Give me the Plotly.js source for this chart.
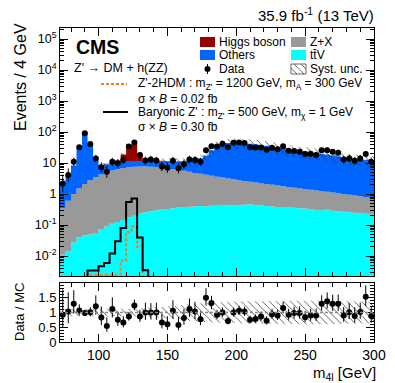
<!DOCTYPE html>
<html><head><meta charset="utf-8">
<script src="https://cdn.plot.ly/plotly-3.0.1.min.js"></script>
<style>html,body{margin:0;padding:0;background:#fff}#chart{width:395px;height:383px}</style>
</head><body><div id="chart"></div>
<script>
// ---- data (m4l bins of 4 GeV starting at 72 GeV) ----
const binLow = 72, binWidth = 4;
const ttV = [0.011,0.014,0.028,0.04,0.046,0.05,0.055,0.075,0.09,0.11,
  0.125,0.145,0.175,0.2,0.23,0.26,0.28,0.3,0.32,0.33,
  0.35,0.37,0.38,0.39,0.4,0.41,0.4,0.42,0.43,0.42,
  0.43,0.44,0.43,0.45,0.47,0.44,0.43,0.41,0.4,0.38,
  0.38,0.37,0.36,0.35,0.34,0.33,0.3,0.3,0.31,0.29,
  0.28,0.27,0.26,0.25,0.24,0.23,0.22];
const zPlusX = [0.34,0.59,0.97,1.46,2.05,2.75,3.45,4.22,4.91,5.59,
  6.18,6.76,7.13,7.4,7.47,7.44,7.32,7.1,6.78,6.47,
  6.05,5.63,5.22,4.81,4.4,4.09,3.8,3.48,3.17,2.98,
  2.77,2.56,2.37,2.2,2.03,1.91,1.77,1.69,1.6,1.52,
  1.42,1.33,1.24,1.17,1.11,1.05,1.0,0.94,0.87,0.83,
  0.78,0.73,0.69,0.65,0.61,0.57,0.54];
const others = [2.05,3.4,7.3,28.5,90,38.2,9.5,4.2,4.2,3.75,
  4.7,4.1,3.7,3.4,3.3,3.8,4.4,4.2,4.3,4.4,
  4.65,5.2,5.5,6.3,7.4,9.8,13.3,22.1,32.4,38.6,
  40.8,42,41.2,40.4,39.5,37.7,35.8,33.9,31,29.1,
  27.7,25.8,23.9,22.5,21.6,20.6,19.7,18.8,17.8,16.7,
  15.5,14,13.1,12.5,12.4,12,11.6];
const higgs = [0,0,0,0,0,0,0,0.3,0.3,0.35,
  1.0,8,27,30,8,1.0,0.5,0.4,0.4,0.4,
  0.35,0.3,0.3,0,0,0,0,0,0,0,
  0,0,0,0,0,0,0,0,0,0,
  0,0,0,0,0,0,0,0,0,0,
  0,0,0,0,0,0,0];
const dataCounts = [2.2,4.1,11,32,91,41,14,7.3,5.2,11,
  9.8,12.5,34,46,18,12,13,12,7.8,7,
  11.9,6.8,9.1,13.1,12.5,11,26,35,34,42,
  32,45,46,44,32,31.5,31.5,27,31,27.6,
  35,25,24.5,23,19.5,20,18,26,26,23,
  21.6,13,14,11.8,14,19.5,11];
const ratio = [0.92,1.03,1.3,1.07,0.98,1.01,1.21,0.83,0.54,1.12,
  0.75,0.66,0.86,1.24,0.86,1.0,1.0,1.0,0.66,0.6,
  1.06,0.58,0.81,1.12,1.03,0.77,1.5,1.32,0.92,1.0,
  0.71,1.0,1.06,1.03,0.75,0.78,0.86,0.72,0.94,0.9,
  1.15,0.92,0.98,0.98,0.84,0.9,0.9,1.3,1.38,1.3,
  1.3,0.9,1.01,0.88,1.02,1.53,0.88];
const systRel = [0.13,0.13,0.13,0.13,0.13,0.13,0.13,0.13,0.13,0.13,
  0.13,0.13,0.13,0.14,0.15,0.16,0.17,0.18,0.19,0.2,
  0.22,0.24,0.26,0.28,0.3,0.31,0.32,0.33,0.34,0.35,
  0.36,0.36,0.37,0.37,0.38,0.38,0.38,0.39,0.39,0.39,
  0.4,0.4,0.4,0.4,0.4,0.4,0.4,0.4,0.4,0.39,
  0.39,0.38,0.38,0.38,0.37,0.37,0.37];
const sigBaryonic = [0,0,0,0,0,0.0034,0.0034,0.0047,0.006,0.012,
  0.03,0.08,0.55,0.72,0.04,0.0035,0,0,0,0,
  0,0,0,0,0,0,0,0,0,0,0,0,0,0,0,0,0,0,0,0,
  0,0,0,0,0,0,0,0,0,0,0,0,0,0,0,0,0];
const sig2HDM = [0,0,0,0,0,0.0025,0.0025,0.0025,0.0025,0.0025,
  0.0025,0.007,0.06,0.09,0.02,0,0,0,0,0,
  0,0,0,0,0,0,0,0,0,0,0,0,0,0,0,0,0,0,0,0,
  0,0,0,0,0,0,0,0,0,0,0,0,0,0,0,0,0];
const yTickVals = [0.01,0.1,1,10,100,1000,10000,100000];
const yTickText = ['10<sup>-2</sup>','10<sup>-1</sup>','1','10','10<sup>2</sup>','10<sup>3</sup>','10<sup>4</sup>','10<sup>5</sup>'];
const ratioTickVals = [0,0.5,1,1.5];
const ratioTickText = ['0','0.5','1','1.5'];

// ---- build ----
const FONT = '"Liberation Sans", Arial, Helvetica, sans-serif';
const C = {higgs:'#990000', others:'#0064ff', zx:'#999999', ttv:'#00ffff', orange:'#ee7f1e'};
const n = dataCounts.length;
const edges = Array.from({length:n+1},(_,i)=>binLow+i*binWidth);
const centers = Array.from({length:n},(_,i)=>binLow+(i+0.5)*binWidth);
const step = v => v.concat([v[v.length-1]]);
const FLOOR = 1e-6;
const cum1 = ttV.slice();
const cum2 = cum1.map((v,i)=>v+zPlusX[i]);
const cum3 = cum2.map((v,i)=>v+others[i]);
const cum4 = cum3.map((v,i)=>v+higgs[i]);
const errUp = dataCounts.map(v=>0.5+Math.sqrt(v+0.25));
const errDn = dataCounts.map(v=>Math.sqrt(v+0.25)-0.5);
const pat = {shape:'\\', fgcolor:'#333', bgcolor:'rgba(0,0,0,0)', size:5, solidity:0.15};

function fillTrace(y, color, extra){
  return Object.assign({x:edges, y:step(y), type:'scatter', mode:'lines',
    line:{width:0, shape:'hv'}, fill:'tonexty', fillcolor:color, hoverinfo:'skip',
    xaxis:'x', yaxis:'y'}, extra||{});
}
const traces = [];
traces.push({x:edges, y:step(edges.slice(0,n).map(()=>FLOOR)), type:'scatter', mode:'lines', line:{width:0, shape:'hv'}, hoverinfo:'skip'});
traces.push(fillTrace(cum1, C.ttv));
traces.push(fillTrace(cum2, C.zx));
traces.push(fillTrace(cum3, C.others));
traces.push(fillTrace(cum4, C.higgs));
traces.push({x:edges, y:step(cum4.map((v,i)=>v*(1-systRel[i]))), type:'scatter', mode:'lines', line:{width:0, shape:'hv'}, hoverinfo:'skip'});
traces.push(fillTrace(cum4.map((v,i)=>v*(1+systRel[i])), 'rgba(0,0,0,0)', {fillpattern:pat}));
traces.push({x:edges, y:step(sig2HDM.map(v=>v>0?v:FLOOR)), type:'scatter', mode:'lines', line:{color:C.orange, width:2, shape:'hv', dash:'3px,2px'}, hoverinfo:'skip'});
traces.push({x:edges, y:step(sigBaryonic.map(v=>v>0?v:FLOOR)), type:'scatter', mode:'lines', line:{color:'#000', width:2, shape:'hv'}, hoverinfo:'skip'});
traces.push({x:centers, y:dataCounts, type:'scatter', mode:'markers', marker:{color:'#000', size:6},
  error_y:{type:'data', symmetric:false, array:errUp, arrayminus:errDn, color:'#000', thickness:1, width:0}, hoverinfo:'skip'});
// ratio panel
traces.push({x:edges, y:step(systRel.map(s=>1-s)), type:'scatter', mode:'lines', line:{width:0, shape:'hv'}, xaxis:'x2', yaxis:'y2', hoverinfo:'skip'});
traces.push({x:edges, y:step(systRel.map(s=>1+s)), type:'scatter', mode:'lines', line:{width:0, shape:'hv'}, fill:'tonexty', fillcolor:'rgba(0,0,0,0)', fillpattern:pat, xaxis:'x2', yaxis:'y2', hoverinfo:'skip'});
traces.push({x:centers, y:ratio, type:'scatter', mode:'markers', marker:{color:'#000', size:6},
  error_y:{type:'data', symmetric:false, array:ratio.map((r,i)=>r*errUp[i]/dataCounts[i]), arrayminus:ratio.map((r,i)=>r*errDn[i]/dataCounts[i]), color:'#000', thickness:1, width:0},
  xaxis:'x2', yaxis:'y2', hoverinfo:'skip'});
// legend symbols needing patterns/markers (pixel overlay axes)
traces.push({x:[291,306,306,291,291], y:[64,64,74,74,64], type:'scatter', mode:'lines', fill:'toself', fillcolor:'rgba(0,0,0,0)', fillpattern:pat, line:{color:'#444', width:0.8}, xaxis:'x3', yaxis:'y3', hoverinfo:'skip'});
traces.push({x:[207.5], y:[69], type:'scatter', mode:'markers', marker:{color:'#000', size:6}, error_y:{type:'data', array:[5], color:'#000', thickness:1, width:0}, xaxis:'x3', yaxis:'y3', hoverinfo:'skip'});

// minor ticks for log axis
const minorLog = [];
for(let e=-3;e<=5;e++) for(let d=2;d<=9;d++) minorLog.push(d*Math.pow(10,e));

const PX = x=>(x-60)/314, PY = y=>(342-y)/314;
function txt(x,y,text,size,opts){
  return Object.assign({xref:'paper', yref:'paper', x:PX(x), y:PY(y), text:text, showarrow:false,
    font:{family:FONT, size:size, color:'#000'}, xanchor:'left', yanchor:'middle', borderpad:0}, opts||{});
}
function box(x0,x1,y0,y1,color){
  return {type:'rect', xref:'paper', yref:'paper', x0:PX(x0), x1:PX(x1), y0:PY(y1), y1:PY(y0), fillcolor:color, line:{width:0}};
}
function hline(x0,x1,y,color,dash){
  return {type:'line', xref:'paper', yref:'paper', x0:PX(x0), x1:PX(x1), y0:PY(y), y1:PY(y), line:{color:color, width:2, dash:dash||'solid'}};
}

const axCommon = {showline:true, linecolor:'#000', linewidth:1, mirror:'allticks', ticks:'inside', tickcolor:'#000',
  showgrid:false, zeroline:false, ticklen:8, tickwidth:1};
const layout = {
  width:395, height:383, margin:{l:60, r:21, t:28, b:41, pad:0},
  paper_bgcolor:'#fff', plot_bgcolor:'rgba(0,0,0,0)', showlegend:false,
  font:{family:FONT, color:'#000'},
  xaxis: Object.assign({}, axCommon, {domain:[0,1], anchor:'y', range:[72,300], tick0:0, dtick:50, showticklabels:false,
    minor:{ticks:'inside', ticklen:4, dtick:10, tick0:0, tickcolor:'#000', showgrid:false}}),
  yaxis: Object.assign({}, axCommon, {domain:[0.21,1], anchor:'x', type:'log', range:[-2.645,5.355],
    tickmode:'array', tickvals:yTickVals, ticktext:yTickText, tickfont:{size:12.5, family:FONT},
    minor:{ticks:'inside', ticklen:4, tickmode:'array', tickvals:minorLog, tickcolor:'#000', showgrid:false}}),
  xaxis2: Object.assign({}, axCommon, {domain:[0,1], anchor:'y2', range:[72,300], tick0:0, dtick:50,
    tickfont:{size:14, family:FONT},
    minor:{ticks:'inside', ticklen:4, dtick:10, tick0:0, tickcolor:'#000', showgrid:false}}),
  yaxis2: Object.assign({}, axCommon, {domain:[0,0.188], anchor:'x2', range:[0,2.0],
    tickmode:'array', tickvals:ratioTickVals, ticktext:ratioTickText, tickfont:{size:13, family:FONT},
    minor:{ticks:'inside', ticklen:4, dtick:0.1, tick0:0, tickcolor:'#000', showgrid:false}}),
  xaxis3: {domain:[0,1], anchor:'y3', range:[60,374], visible:false, fixedrange:true},
  yaxis3: {domain:[0,1], anchor:'x3', range:[342,28], visible:false, fixedrange:true},
  shapes: [
    {type:'line', xref:'x2', yref:'y2', x0:72, x1:300, y0:1, y1:1, line:{color:'#888', width:1.5, dash:'3px,2px'}},
    box(200,215,37,47,C.higgs), box(200,215,50,60,C.others),
    box(291,306,37,47,C.zx), box(291,306,50,60,C.ttv),
    hline(101,127,84,C.orange,'3px,2px'), hline(103,128,112,'#000')
  ],
  annotations: [
    txt(375,14,'35.9 fb<sup>-1</sup> (13 TeV)',15,{xanchor:'right'}),
    txt(75,47,'<b>CMS</b>',19.5),
    txt(73,68,"Z' \u2192 DM + h(ZZ)",12.5),
    txt(218,42,'Higgs boson',12), txt(309,42,'Z+X',12),
    txt(218,55,'Others',12), txt(309,55,'tt\u0304V',12),
    txt(218,69,'Data',12), txt(309,69,'Syst. unc.',12),
    txt(137,84,"Z'-2HDM : m<sub>Z'</sub> = 1200 GeV, m<sub>A</sub> = 300 GeV",12),
    txt(137,99,'\u03c3 \u00d7 <i>B</i> = 0.02 fb',12),
    txt(137,113,"Baryonic Z' : m<sub>Z'</sub> = 500 GeV, m<sub>\u03c7</sub> = 1 GeV",12),
    txt(137,127,'\u03c3 \u00d7 <i>B</i> = 0.30 fb',12),
    txt(20,22,'Events / 4 GeV',16,{textangle:-90, xanchor:'center', yanchor:'top'}),
    txt(19,312,'Data / MC',13,{textangle:-90, xanchor:'center', yanchor:'middle'}),
    txt(377,373,'m<sub>4l</sub> [GeV]',15,{xanchor:'right'})
  ]
};
Plotly.newPlot('chart', traces, layout, {staticPlot:true, displayModeBar:false});
</script>
</body></html>
